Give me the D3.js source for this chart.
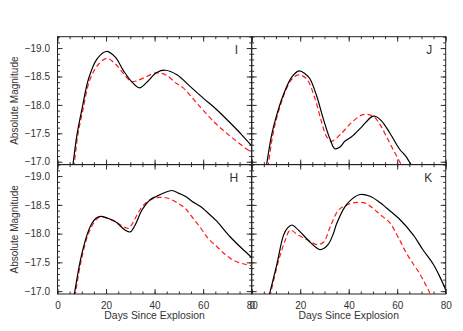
<!DOCTYPE html>
<html>
<head>
<meta charset="utf-8">
<script src="https://cdn.jsdelivr.net/npm/d3@7"></script>
<style>
    body { margin: 0; background: #fff; }
    svg { display: block; font-family: "Liberation Sans", Arial, sans-serif; }
    .axis text { font-size: 10px; fill: #333; }
    .axis line { stroke: #333; }
</style>
</head>
<body>
<svg id="chart" width="463" height="331"></svg>
<script>
//Light curves: [day, absolute magnitude], solid = black, dashed = red
const curveI_solid = [[6.2,-16.9],[6.4,-16.96],[8,-17.47],[10.1,-17.93],[12.8,-18.46],[16.3,-18.81],[20.1,-18.94],[23.8,-18.84],[27.2,-18.60],[30.7,-18.40],[33.8,-18.30],[36.8,-18.40],[40.9,-18.57],[44.4,-18.61],[49.2,-18.53],[54.5,-18.33],[60,-18.12],[65.5,-17.92],[71,-17.69],[76,-17.47],[80,-17.28]];
const curveI_dashed = [[6.7,-16.9],[6.9,-16.96],[8.3,-17.45],[10.4,-17.9],[13.5,-18.46],[17,-18.72],[20.4,-18.82],[23.8,-18.72],[27.2,-18.55],[30.5,-18.41],[33,-18.43],[36.8,-18.50],[40,-18.56],[42.5,-18.56],[45,-18.52],[48.9,-18.38],[51.8,-18.30],[58,-18.0],[65.5,-17.66],[72,-17.42],[79.5,-17.17],[80,-17.15]];

const curveJ_solid = [[6.0,-16.9],[6.2,-16.96],[8.2,-17.47],[10.3,-17.82],[13,-18.17],[16.5,-18.49],[19.6,-18.60],[22,-18.55],[24,-18.46],[26.7,-18.17],[29.5,-17.76],[32.2,-17.41],[34.3,-17.23],[36.4,-17.26],[38.4,-17.36],[41.2,-17.44],[45.3,-17.61],[49.4,-17.79],[50.9,-17.80],[53.5,-17.72],[56.9,-17.51],[61,-17.22],[63.5,-17.1],[66,-16.93],[66.5,-16.9]];
const curveJ_dashed = [[6.7,-16.9],[6.9,-16.96],[8.6,-17.45],[10.5,-17.8],[13.7,-18.22],[16.5,-18.45],[19.2,-18.53],[22.6,-18.46],[26.1,-18.11],[28.8,-17.70],[30.9,-17.44],[32.9,-17.36],[37,-17.50],[41.2,-17.69],[45.3,-17.82],[48.2,-17.83],[50.7,-17.78],[53,-17.65],[55.5,-17.45],[58.5,-17.2],[61.7,-16.95],[62.5,-16.9]];

const curveH_solid = [[6.7,-16.9],[6.9,-16.94],[9.4,-17.53],[12.1,-17.97],[14.2,-18.18],[16,-18.27],[17.8,-18.30],[20.5,-18.27],[23.8,-18.21],[27.9,-18.06],[30,-18.03],[32,-18.15],[34.8,-18.41],[38.2,-18.59],[40.9,-18.65],[44,-18.71],[47.1,-18.75],[50,-18.7],[52.6,-18.65],[55.5,-18.56],[58.6,-18.48],[62,-18.36],[65.5,-18.22],[71,-17.95],[76.5,-17.72],[79.6,-17.60],[80,-17.58]];
const curveH_dashed = [[7.1,-16.9],[7.3,-16.94],[9.6,-17.5],[12.3,-17.95],[14.4,-18.15],[16,-18.25],[17.8,-18.29],[20.5,-18.27],[24.5,-18.19],[27.2,-18.12],[29.3,-18.09],[30.8,-18.17],[32.7,-18.32],[35.5,-18.50],[38.9,-18.60],[42,-18.63],[45.1,-18.62],[49.2,-18.54],[52.6,-18.44],[54.5,-18.34],[58.6,-18.12],[62,-17.92],[65.5,-17.78],[69,-17.64],[72.3,-17.54],[76,-17.48],[80,-17.44]];

const curveK_solid = [[7.1,-16.9],[7.3,-16.94],[10.4,-17.47],[13.1,-17.97],[14.8,-18.1],[16.6,-18.15],[18.3,-18.1],[20,-18.03],[24.1,-17.85],[26.5,-17.76],[28.2,-17.72],[30,-17.75],[31.7,-17.82],[33.5,-17.98],[35.1,-18.18],[38.5,-18.47],[41.3,-18.60],[44.7,-18.68],[48.8,-18.65],[52.9,-18.54],[55.5,-18.45],[61,-18.25],[66.6,-17.98],[70.6,-17.72],[74.7,-17.48],[77,-17.3],[79.5,-17.07],[80.5,-16.95]];
const curveK_dashed = [[7.5,-16.9],[7.7,-16.94],[11.1,-17.53],[13.8,-17.88],[15.9,-18.06],[19.3,-17.97],[23.4,-17.88],[26.9,-17.81],[29.6,-17.85],[32.4,-18.12],[35.8,-18.41],[39.2,-18.50],[42.6,-18.54],[46.8,-18.53],[50,-18.44],[53,-18.33],[56.9,-18.19],[60.5,-17.93],[63.8,-17.66],[66.5,-17.48],[69.2,-17.31],[71.5,-17.13],[73.1,-17.0],[73.8,-16.9]];

//Tick values
const xMajorTicks = [0, 20, 40, 60, 80];
const xMinorTicks = d3.range(0, 81, 5);
const yMajorTicks = [-19.0, -18.5, -18.0, -17.5, -17.0];
const yMinorTicks = [-19.2, -19.1, -19.0, -18.9, -18.8, -18.7, -18.6, -18.5, -18.4, -18.3, -18.2, -18.1, -18.0, -17.9, -17.8, -17.7, -17.6, -17.5, -17.4, -17.3, -17.2, -17.1, -17.0];

const panelNames = ["I", "J", "H", "K"];
const panelCurves = [
    [curveI_solid, curveI_dashed],
    [curveJ_solid, curveJ_dashed],
    [curveH_solid, curveH_dashed],
    [curveK_solid, curveK_dashed]
];

let svg = d3.select("#chart");
const colX = [[57.5, 251.7], [251.7, 445.7]];
const rowY = [[36.7, 164.6], [164.6, 294]];
const fmtY = d => (d < 0 ? "\u2212" : "") + Math.abs(d).toFixed(1);

panelNames.forEach((name, i) => {
    let col = i % 2, row = Math.floor(i / 2);
    let [x0, x1] = colX[col], [y0, y1] = rowY[row];

    let x = d3.scaleLinear().domain([0, 80]).range([x0, x1]);
    let y = d3.scaleLinear().domain([-16.95, -19.2]).range([y1, y0]);

    //clip region for the curves
    svg.append("clipPath").attr("id", "clip" + i)
        .append("rect").attr("x", x0).attr("y", y0).attr("width", x1 - x0).attr("height", y1 - y0);

    let g = svg.append("g");

    //Axes: major + minor ticks on all four sides, pointing inward
    let addAxis = (axisFn, scale, tx, ty, vals, size, fmt, pad) => {
        let a = g.append("g").attr("class", "axis").attr("transform", `translate(${tx},${ty})`)
            .call(axisFn(scale).tickValues(vals).tickSize(size).tickPadding(pad).tickFormat(fmt));
        a.select(".domain").remove();
        a.selectAll("text").attr("font-family", null).attr("font-size", null);
        return a;
    };
    addAxis(d3.axisBottom, x, 0, y1, xMinorTicks, -2.5, () => "", 0);
    addAxis(d3.axisBottom, x, 0, y1, xMajorTicks, -5, row === 1 ? (d => d) : () => "", 7.5);
    addAxis(d3.axisTop, x, 0, y0, xMinorTicks, -2.5, () => "", 0);
    addAxis(d3.axisTop, x, 0, y0, xMajorTicks, -5, () => "", 0);
    addAxis(d3.axisLeft, y, x0, 0, yMinorTicks.filter(v => v >= -19.2 && v <= -16.95), -2.5, () => "", 0);
    addAxis(d3.axisLeft, y, x0, 0, yMajorTicks, -5, col === 0 ? fmtY : () => "", 7.5);
    addAxis(d3.axisRight, y, x1, 0, yMinorTicks.filter(v => v >= -19.2 && v <= -16.95), -2.5, () => "", 0);
    addAxis(d3.axisRight, y, x1, 0, yMajorTicks, -5, () => "", 0);

    //frame
    g.append("rect")
        .attr("x", x0).attr("y", y0).attr("width", x1 - x0).attr("height", y1 - y0)
        .attr("fill", "none").attr("stroke", "#222").attr("stroke-width", 1);

    let line = d3.line().x(d => x(d[0])).y(d => y(d[1])).curve(d3.curveCatmullRom.alpha(0.5));

    let curves = g.append("g").attr("clip-path", `url(#clip${i})`);
    curves.append("path")
        .datum(panelCurves[i][1])
        .attr("d", line)
        .attr("fill", "none")
        .attr("stroke", "#ff1a1a")
        .attr("stroke-width", 1.2)
        .attr("stroke-dasharray", "5,3");
    curves.append("path")
        .datum(panelCurves[i][0])
        .attr("d", line)
        .attr("fill", "none")
        .attr("stroke", "#000")
        .attr("stroke-width", 1.2);

    //panel letter
    g.append("text")
        .attr("x", x1 - 13.5).attr("y", y0 + 17.5)
        .attr("text-anchor", "end")
        .attr("font-size", "12px")
        .attr("fill", "#333")
        .text(name);

    //axis titles
    if (row === 1) {
        g.append("text")
            .attr("x", (x0 + x1) / 2).attr("y", 319)
            .attr("text-anchor", "middle")
            .attr("font-size", "10.4px")
            .attr("fill", "#333")
            .text("Days Since Explosion");
    }
    if (col === 0) {
        g.append("text")
            .attr("transform", `translate(18,${(y0 + y1) / 2}) rotate(-90)`)
            .attr("text-anchor", "middle")
            .attr("font-size", "10px")
            .attr("fill", "#333")
            .text("Absolute Magnitude");
    }
});
</script>
</body>
</html>
